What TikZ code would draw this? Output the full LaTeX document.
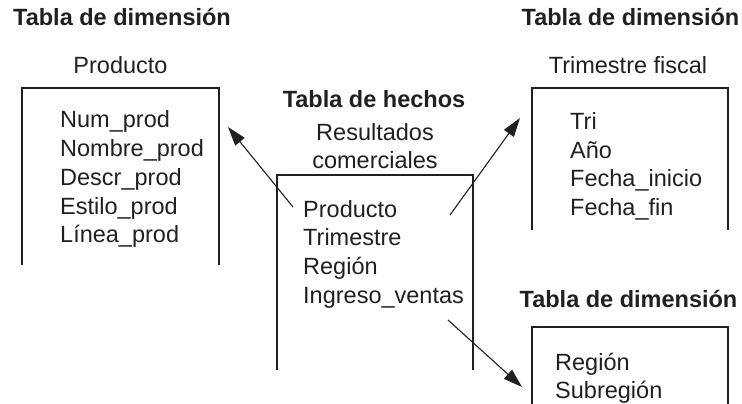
\documentclass[tikz,border=0pt]{standalone}
\usepackage{fontspec}
\setmainfont{Liberation Sans}
\usetikzlibrary{positioning, arrows.meta}
\definecolor{ink}{RGB}{35,31,32}
\tikzset{
  % Table headings
  tabletitle/.style={
    font=\fontsize{23.5}{28.5}\selectfont\bfseries, text=ink,
    inner sep=0pt, anchor=base
  },
  tablename/.style={
    font=\fontsize{23.5}{28.5}\selectfont, text=ink,
    inner sep=0pt, anchor=base
  },
  % One column of a table
  field/.style={
    font=\fontsize{23.5}{28.5}\selectfont, text=ink,
    inner sep=0pt, anchor=base west
  },
  % Open box of a table
  tablebox/.style={
    draw=ink, line width=1.3pt
  },
  % Link from fact table to dimension
  fklink/.style={
    draw=ink, line width=1.1pt,
    -{Triangle[length=19pt, width=12pt]}
  },
}

\begin{document}
\begin{tikzpicture}[x=1pt, y=-1pt]

  \useasboundingbox[fill=white] (0,0) rectangle (742,404);

  %% ── Dimension: Producto ──
  \node[tabletitle] (tProd) at (122,26) {Tabla de dimensión};
  \node[tablename]  (nProd) at (120.5,74) {Producto};
  \draw[tablebox] (22,265) |- (219,88) -- (219,265);
  \node[field] (pNum)    at (60,128)   {Num\_prod};
  \node[field] (pNombre) at (60,156.7) {Nombre\_prod};
  \node[field] (pDescr)  at (60,185.3) {Descr\_prod};
  \node[field] (pEstilo) at (60,214)   {Estilo\_prod};
  \node[field] (pLinea)  at (60,242.6) {Línea\_prod};

  %% ── Fact table: Resultados comerciales ──
  \node[tabletitle] (tHechos) at (374,107) {Tabla de hechos};
  \node[tablename, anchor=north, align=center] (nHechos) at (375,123) {Resultados\\comerciales};
  \draw[tablebox] (277,370) |- (473,175) -- (473,370);
  \node[field] (hProd) at (303,217)   {Producto};
  \node[field] (hTri)  at (303,245.7) {Trimestre};
  \node[field] (hReg)  at (303,274.3) {Región};
  \node[field] (hIng)  at (303,303)   {Ingreso\_ventas};

  %% ── Dimension: Trimestre fiscal ──
  \node[tabletitle] (tTri) at (630.5,26) {Tabla de dimensión};
  \node[tablename]  (nTri) at (628,74) {Trimestre fiscal};
  \draw[tablebox] (532,230) |- (728,88) -- (728,230);
  \node[field] (qTri)    at (570,129.5) {Tri};
  \node[field] (qAnio)   at (570,158.2) {Año};
  \node[field] (qInicio) at (570,186.9) {Fecha\_inicio};
  \node[field] (qFin)    at (570,215.6) {Fecha\_fin};

  %% ── Dimension: Región ──
  \node[tabletitle] (tReg) at (628.5,307) {Tabla de dimensión};
  \draw[tablebox] (532,410) |- (728,327) -- (728,410);
  \node[field] (rReg)    at (555,370)   {Región};
  \node[field] (rSubreg) at (555,398.5) {Subregión};

  %% ── Links ──
  \coordinate (lProdS) at (293,207);
  \coordinate (lProdE) at (228,127);
  \coordinate (lTriS)  at (450,215);
  \coordinate (lTriE)  at (520,118);
  \coordinate (lRegS)  at (448,320);
  \coordinate (lRegE)  at (522,387);
  \draw[fklink] (lProdS) -- (lProdE);
  \draw[fklink] (lTriS) -- (lTriE);
  \draw[fklink] (lRegS) -- (lRegE);

\end{tikzpicture}
\end{document}
